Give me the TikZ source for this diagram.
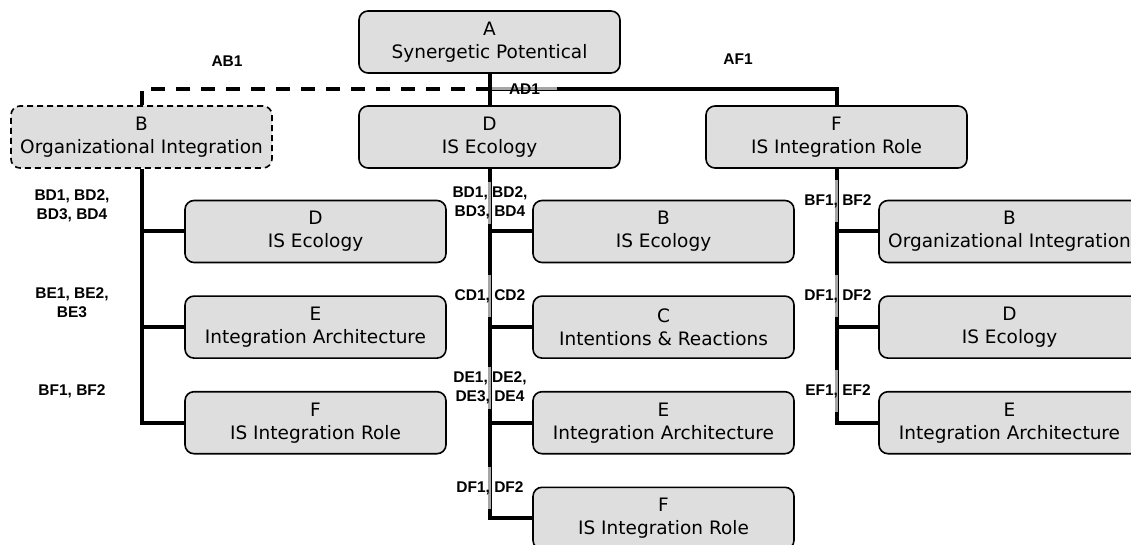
\documentclass[tikz,border=0pt]{standalone}
\usepackage{fontspec}
\setmainfont{DejaVu Sans}
\newfontfamily\labelfont{Liberation Sans}
\usetikzlibrary{positioning,backgrounds}
\definecolor{boxfill}{HTML}{DEDEDE}
\definecolor{veil}{HTML}{A6A6A6}

\begin{document}
\begin{tikzpicture}[x=1pt,y=-1pt,
  box/.style={draw,line width=1.6pt,rounded corners=9pt,fill=boxfill,align=center,minimum width=261pt,minimum height=62pt,inner sep=0pt,font=\fontsize{18.5}{23}\selectfont},
  dbox/.style={box,dash pattern=on 6pt off 4pt},
  lab/.style={font=\labelfont\bfseries\fontsize{15.5}{19}\selectfont,align=center,inner sep=0pt},
  onlab/.style={lab,minimum height=41pt},
  link/.style={line width=4pt},
  dlink/.style={link,dash pattern=on 14pt off 11pt},
  veilbar/.style={veil,line width=3pt}]
\useasboundingbox (0,0) rectangle (1131,545);
% top row
\node[box] (A) at (489.5,42) {A\\Synergetic Potentical};
\node[dbox] (B0) at (141.5,137) {B\\Organizational Integration};
\node[box] (D0) at (489.5,137) {D\\IS Ecology};
\node[box] (F0) at (836.5,137) {F\\IS Integration Role};
\coordinate (hub) at (489.5,89);
% left column
\node[box] (LD) at (315.5,231.5) {D\\IS Ecology};
\node[box,below=32pt of LD] (LE) {E\\Integration Architecture};
\node[box,below=32pt of LE] (LF) {F\\IS Integration Role};
% middle column
\node[box] (MB) at (663.5,231.5) {B\\IS Ecology};
\node[box,below=32pt of MB] (MC) {C\\Intentions \& Reactions};
\node[box,below=32pt of MC] (ME) {E\\Integration Architecture};
\node[box,below=32pt of ME] (MF) {F\\IS Integration Role};
% right column
\node[box] (RB) at (1009.5,231.5) {B\\Organizational Integration};
\node[box,below=32pt of RB] (RD) {D\\IS Ecology};
\node[box,below=32pt of RD] (RE) {E\\Integration Architecture};
% labels
\node[lab] (lAB) at (227,61) {AB1};
\node[lab] (lAF) at (738,59) {AF1};
\node[lab,minimum width=65pt] (lAD) at (524.5,89) {AD1};
\node[lab] (lLBD) at (72,206) {BD1, BD2,\\BD3, BD4};
\node[lab] (lLBE) at (72,303) {BE1, BE2,\\BE3};
\node[lab] (lLBF) at (72,391) {BF1, BF2};
\node[onlab] (lMBD) at (490,203) {BD1, BD2,\\BD3, BD4};
\node[onlab] (lMCD) at (490,296) {CD1, CD2};
\node[onlab] (lMDE) at (490,388) {DE1, DE2,\\DE3, DE4};
\node[onlab] (lMDF) at (490,488) {DF1, DF2};
\node[onlab] (lRBF) at (838,201) {BF1, BF2};
\node[onlab] (lRDF) at (838,296) {DF1, DF2};
\node[onlab] (lREF) at (838,391) {EF1, EF2};
\begin{scope}[on background layer]
\draw[link] (A.south) -- (D0.north);
\draw[dlink] (hub) -| (B0.north);
\draw[link] (hub) -| (F0.north);
\foreach \to in {LD,LE,LF}
  \draw[link] (B0.south) |- (\to.west);
\foreach \to in {MB,MC,ME,MF}
  \draw[link] (D0.south) |- (\to.west);
\foreach \to in {RB,RD,RE}
  \draw[link] (F0.south) |- (\to.west);
% grey where the labels sit on the lines
\draw[veilbar] (lAD.west) -- (lAD.east);
\foreach \l in {lMBD,lMCD,lMDE,lMDF}
  \draw[veilbar] (\l.north -| D0.south) -- (\l.south -| D0.south);
\foreach \l in {lRBF,lRDF,lREF}
  \draw[veilbar] (\l.north -| F0.south) -- (\l.south -| F0.south);
\end{scope}
\end{tikzpicture}
\end{document}
